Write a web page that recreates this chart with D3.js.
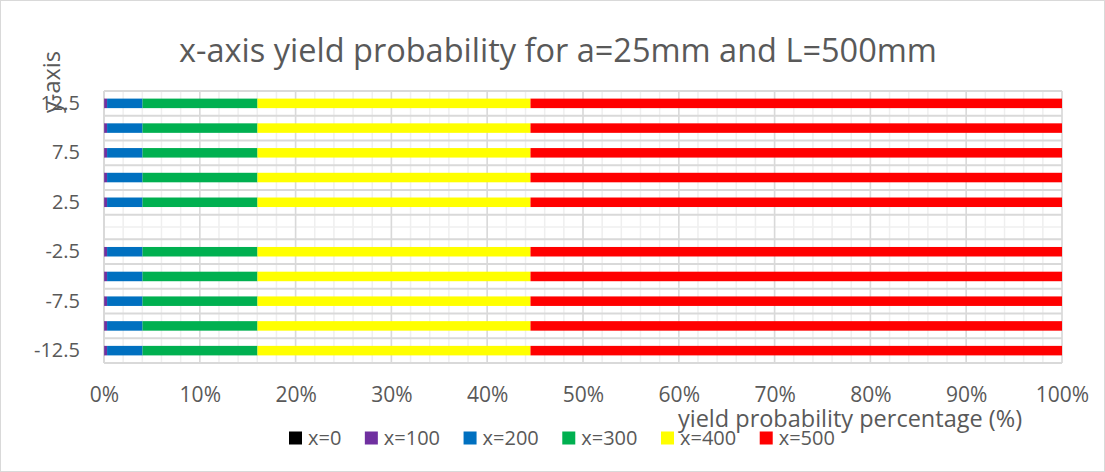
<!DOCTYPE html>
<html>
<head>
<meta charset="utf-8">
<script src="https://cdn.jsdelivr.net/npm/d3@7"></script>
<style>
  html, body { margin: 0; padding: 0; background: #fff; }
  svg { display: block; font-family: "Open Sans", "Noto Sans", sans-serif; }
</style>
</head>
<body>
<svg id="chart" width="1105" height="472"></svg>
<script>
// y positions along the section (mm); the 0 row has no data
const categories = ["12.5", "10", "7.5", "5", "2.5", "0", "-2.5", "-5", "-7.5", "-10", "-12.5"];
const yTickLabels = ["12.5", "7.5", "2.5", "-2.5", "-7.5", "-12.5"];
const seriesNames = ["x=0", "x=100", "x=200", "x=300", "x=400", "x=500"];
const seriesColors = ["#000000", "#7030A0", "#0070C0", "#00B050", "#FFFF00", "#FF0000"];

// yield probability (%) per station, one value per y position
const x0   = [0.02, 0.02, 0.02, 0.02, 0.02, null, 0.02, 0.02, 0.02, 0.02, 0.02];
const x100 = [0.30, 0.30, 0.30, 0.30, 0.30, null, 0.30, 0.30, 0.30, 0.30, 0.30];
const x200 = [3.70, 3.70, 3.70, 3.70, 3.70, null, 3.70, 3.70, 3.70, 3.70, 3.70];
const x300 = [12.0, 12.0, 12.0, 12.0, 12.0, null, 12.0, 12.0, 12.0, 12.0, 12.0];
const x400 = [28.5, 28.5, 28.5, 28.5, 28.5, null, 28.5, 28.5, 28.5, 28.5, 28.5];
const x500 = [55.48, 55.48, 55.48, 55.48, 55.48, null, 55.48, 55.48, 55.48, 55.48, 55.48];
const seriesValues = [x0, x100, x200, x300, x400, x500];

const xTickValues = [0, 0.1, 0.2, 0.3, 0.4, 0.5, 0.6, 0.7, 0.8, 0.9, 1.0];

const titleText = "x-axis yield probability for a=25mm and L=500mm";
const xTitleText = "yield probability percentage (%)";
const yTitleText = "y-axis";

const W = 1105, H = 472;
const plot = { left: 104, right: 1062, top: 91, bottom: 363 };
const textColor = "#595959";

const svg = d3.select("#chart");

// chart area frame
svg.append("rect")
  .attr("x", 0.5).attr("y", 0.5)
  .attr("width", W - 1).attr("height", H - 1)
  .attr("fill", "#fff").attr("stroke", "#d9d9d9");

const x = d3.scaleLinear().domain([0, 1]).range([plot.left, plot.right]);
const y = d3.scaleBand().domain(categories).range([plot.top, plot.bottom]).paddingInner(0).paddingOuter(0);
const barH = y.bandwidth() * 0.385;

// rows for the stack: missing rows become zero and are skipped when drawn
const rows = categories.map((c, i) => {
  const r = { cat: c, empty: seriesValues.every(s => s[i] == null) };
  seriesNames.forEach((n, k) => { r[n] = seriesValues[k][i] == null ? 0 : seriesValues[k][i]; });
  return r;
});
const stacked = d3.stack().keys(seriesNames).offset(d3.stackOffsetExpand)(rows);

const grid = svg.append("g");

// minor vertical gridlines every 2 %
grid.selectAll("line.vminor")
  .data(d3.range(0, 51).map(i => i / 50))
  .join("line")
  .attr("x1", d => x(d)).attr("x2", d => x(d))
  .attr("y1", plot.top).attr("y2", plot.bottom)
  .attr("stroke", "#efefef").attr("stroke-width", 1.5);

// minor horizontal gridlines at row centres
grid.selectAll("line.hminor")
  .data(categories)
  .join("line")
  .attr("x1", plot.left).attr("x2", plot.right)
  .attr("y1", d => y(d) + y.bandwidth() / 2).attr("y2", d => y(d) + y.bandwidth() / 2)
  .attr("stroke", "#efefef").attr("stroke-width", 1.5);

// major vertical gridlines every 10 %
grid.selectAll("line.vmajor")
  .data(xTickValues)
  .join("line")
  .attr("x1", d => x(d)).attr("x2", d => x(d))
  .attr("y1", plot.top).attr("y2", plot.bottom)
  .attr("stroke", "#d9d9d9").attr("stroke-width", 1.5);

// major horizontal gridlines at row boundaries
grid.selectAll("line.hmajor")
  .data(categories.map(c => y(c)).concat([plot.bottom]))
  .join("line")
  .attr("x1", plot.left).attr("x2", plot.right)
  .attr("y1", d => d).attr("y2", d => d)
  .attr("stroke", "#d9d9d9").attr("stroke-width", 2);

// vertical axis line
svg.append("line")
  .attr("x1", plot.left).attr("x2", plot.left)
  .attr("y1", plot.top).attr("y2", plot.bottom)
  .attr("stroke", "#d9d9d9").attr("stroke-width", 2);

// stacked bars
const layers = svg.append("g").selectAll("g")
  .data(stacked)
  .join("g")
  .attr("fill", (d, i) => seriesColors[i]);

layers.selectAll("rect")
  .data(d => d.filter(p => !p.data.empty && p[1] > p[0]))
  .join("rect")
  .attr("x", d => x(d[0]))
  .attr("width", d => x(d[1]) - x(d[0]))
  .attr("y", d => y(d.data.cat) + (y.bandwidth() - barH) / 2)
  .attr("height", barH);

// x axis tick labels
const xAxis = d3.axisBottom(x)
  .tickValues(xTickValues)
  .tickFormat(d3.format(".0%"))
  .tickSize(0)
  .tickPadding(24);
const gx = svg.append("g")
  .attr("transform", `translate(0,${plot.bottom})`)
  .call(xAxis);
gx.select(".domain").remove();
gx.selectAll("text")
  .attr("fill", textColor)
  .style("font-size", "21px")
  .style("font-family", "'Open Sans', sans-serif");

// y axis tick labels (every other row)
const yAxis = d3.axisLeft(y)
  .tickValues(yTickLabels)
  .tickSize(0)
  .tickPadding(24);
const gy = svg.append("g")
  .attr("transform", `translate(${plot.left},0)`)
  .call(yAxis);
gy.select(".domain").remove();
gy.selectAll("text")
  .attr("fill", textColor)
  .style("font-size", "20px")
  .style("font-family", "'Open Sans', sans-serif");

// chart title
svg.append("text")
  .attr("x", 558).attr("y", 62)
  .attr("text-anchor", "middle")
  .attr("fill", textColor)
  .style("font-size", "32.5px")
  .text(titleText);

// axis titles
svg.append("text")
  .attr("x", 850).attr("y", 427)
  .attr("text-anchor", "middle")
  .attr("fill", textColor)
  .style("font-size", "23.5px")
  .text(xTitleText);

svg.append("text")
  .attr("transform", "translate(60,82) rotate(-90)")
  .attr("text-anchor", "middle")
  .attr("fill", textColor)
  .style("font-size", "23.5px")
  .text(yTitleText);

// legend
const legend = svg.append("g").attr("transform", "translate(289,0)");
let lx = 0;
seriesNames.forEach((name, i) => {
  const g = legend.append("g").attr("transform", `translate(${lx},0)`);
  g.append("rect")
    .attr("x", 0).attr("y", 431.5)
    .attr("width", 13).attr("height", 13)
    .attr("fill", seriesColors[i]);
  const t = g.append("text")
    .attr("x", 19).attr("y", 445)
    .attr("fill", textColor)
    .style("font-size", "20px")
    .text(name);
  lx += 19 + t.node().getComputedTextLength() + 23.5;
});
</script>
</body>
</html>
